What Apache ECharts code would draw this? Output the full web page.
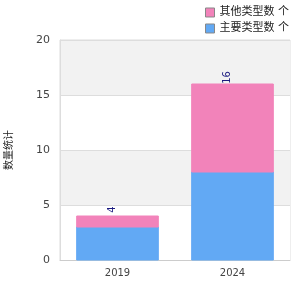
<!DOCTYPE html>
<html>
<head>
<meta charset="utf-8">
<script src="https://cdn.jsdelivr.net/npm/echarts@6/dist/echarts.min.js"></script>
<style>
    html, body { margin: 0; padding: 0; background: #fff; }
    #chart { width: 300px; height: 300px; }
</style>
</head>
<body>
<div id="chart"></div>
<script>
// 数据
var years = ['2019', '2024'];
var seriesNames = ['其他类型数 个', '主要类型数 个'];
var baseValues = [3, 8];   // 蓝色
var topValues = [1, 8];    // 粉色
var totals = [4, 16];

var chart = echarts.init(document.getElementById('chart'));
var option = {
    animation: false,
    textStyle: { fontFamily: 'DejaVu Sans, Noto Sans CJK SC' },
    legend: {
        orient: 'vertical',
        left: 200,
        top: 2,
        itemWidth: 9,
        itemHeight: 9,
        itemGap: 5,
        icon: 'rect',
        itemStyle: { borderColor: '#888888', borderWidth: 1 },
        textStyle: { fontSize: 11, color: '#222' },
        data: [seriesNames[0], seriesNames[1]]
    },
    grid: {
        left: 60, right: 10, top: 40, bottom: 40,
        outerBoundsMode: 'none',
        containLabel: false,
        show: true, borderColor: '#dddddd', borderWidth: 1
    },
    xAxis: {
        type: 'category',
        data: years,
        axisTick: { show: false },
        axisLine: { lineStyle: { color: '#cccccc' } },
        axisLabel: { fontSize: 10, color: '#444', margin: 8 }
    },
    yAxis: {
        type: 'value',
        min: 0, max: 20, interval: 5,
        name: '数量统计',
        nameLocation: 'middle',
        nameGap: 46,
        nameTextStyle: { fontSize: 10, color: '#222' },
        axisLine: { show: true, lineStyle: { color: '#dddddd' } },
        axisLabel: { fontSize: 11, color: '#444', margin: 10 },
        splitLine: { lineStyle: { color: '#dddddd' } },
        splitArea: { show: true, areaStyle: { color: ['#ffffff', '#f2f2f2'] } }
    },
    series: [
        {
            name: seriesNames[1],
            type: 'bar',
            stack: 'total',
            barWidth: '71%',
            data: baseValues,
            itemStyle: { color: '#62a9f4', borderColor: '#62a9f4' }
        },
        {
            name: seriesNames[0],
            type: 'bar',
            stack: 'total',
            data: topValues,
            itemStyle: { color: '#f283ba', borderColor: '#f283ba' },
            label: {
                show: true,
                position: 'top',
                rotate: 90,
                distance: 6,
                fontSize: 10,
                color: '#1a1a80',
                formatter: function (p) { return totals[p.dataIndex]; }
            }
        }
    ]
};
chart.setOption(option);
</script>
</body>
</html>
